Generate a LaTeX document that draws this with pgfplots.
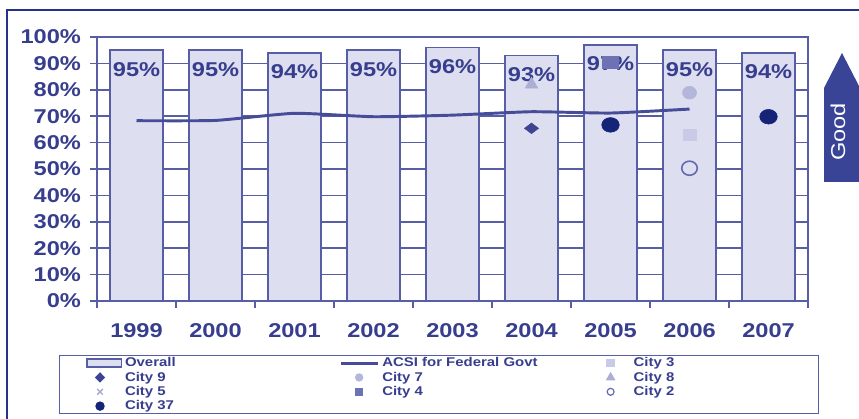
\documentclass[border=0pt]{standalone}
\usepackage{pgfplots}
\pgfplotsset{compat=1.18}
\usepackage{fontspec}
\setmainfont{Liberation Sans}[FakeStretch=1.18]
\definecolor{navy}{RGB}{55,62,142}
\definecolor{barfill}{RGB}{221,222,240}
\definecolor{gridblue}{RGB}{88,94,166}
\definecolor{linec}{RGB}{70,76,152}
\definecolor{darkdot}{RGB}{22,36,120}
\definecolor{c9}{RGB}{62,68,146}
\definecolor{c8}{RGB}{172,174,212}
\definecolor{c4}{RGB}{108,114,180}
\definecolor{c7}{RGB}{180,182,218}
\definecolor{c3}{RGB}{200,202,232}
\definecolor{c2}{RGB}{100,106,172}
\definecolor{c5}{RGB}{165,168,205}
\definecolor{framec}{RGB}{40,50,140}
\definecolor{arrowc}{RGB}{58,68,150}
\pgfplotsset{
  mA/.style={legend image code/.code={\path (0pt,0pt) (26pt,0pt); \draw[##1] plot coordinates {(9.75pt,0pt)};}},
  mB/.style={legend image code/.code={\path (0pt,0pt) (27.75pt,0pt); \draw[##1] plot coordinates {(13.5pt,0pt)};}},
  mC/.style={legend image code/.code={\path (0pt,0pt) (20pt,0pt); \draw[##1] plot coordinates {(5.25pt,0pt)};}},
}
\begin{document}
\begin{tikzpicture}
\path[use as bounding box] (0pt,0pt) rectangle (644.25pt,313.5pt);
\begin{scope}[x=0.75pt,y=-0.75pt,yshift=313.5pt]
  \draw[framec, line width=1.5pt] (7,430) -- (7,10) -- (870,10);
  \fill[arrowc] (824,182) -- (824,88) -- (842,53) -- (860,88) -- (860,182) -- cycle;
  \node[white, rotate=90, font=\fontsize{15}{15}\selectfont] at (838,132) {Good};
\end{scope}
\begin{axis}[
  at={(72.75pt,87.75pt)}, anchor=south west,
  scale only axis, width=533.25pt, height=198pt,
  xmin=0.5, xmax=9.5, ymin=0, ymax=100,
  axis line style={gridblue, line width=1.3pt},
  xtick={0.5,1.5,...,9.5}, xticklabels={},
  extra x ticks={1,...,9},
  extra x tick labels={1999,2000,2001,2002,2003,2004,2005,2006,2007},
  extra x tick style={major tick length=0pt},
  ytick={0,10,...,100},
  yticklabels={0\%,10\%,20\%,30\%,40\%,50\%,60\%,70\%,80\%,90\%,100\%},
  tick pos=left, tick align=outside, major tick length=5pt,
  tick style={gridblue, line width=1.2pt},
  ymajorgrids, grid style={gridblue, line width=1.1pt},
  ticklabel style={font=\fontsize{15}{15}\selectfont\bfseries, text=navy},
  yticklabel style={xshift=-3.5pt},
  xticklabel style={yshift=-13.25pt},
  /pgf/number format/assume math mode=true,
  legend style={at={(-0.0534,-0.2045)}, anchor=north west, legend columns=3,
    draw=gridblue, line width=1pt, font=\fontsize{9.5}{10}\selectfont\bfseries,
    text=navy, row sep=2.55pt, inner xsep=20pt, inner ysep=1.5pt,
    nodes={inner xsep=2pt, inner ysep=0pt, text height=7pt, text depth=1.2pt}},
  legend cell align=left,
]
\addplot[ybar, bar width=0.67, draw=gridblue, fill=barfill, line width=1.2pt, forget plot,
  nodes near coords={\pgfmathprintnumber{\pgfplotspointmeta}\%},
  every node near coord/.append style={anchor=north, yshift=-5pt,
    font=\fontsize{15}{15}\selectfont\bfseries, text=navy}]
  coordinates {(1,95)(2,95)(3,94)(4,95)(5,96)(6,93)(7,97)(8,95)(9,94)};
\addplot[linec, line width=2.2pt, smooth, tension=0.3, forget plot]
  coordinates {(1,68.3)(2,68.4)(3,71.1)(4,69.8)(5,70.4)(6,71.7)(7,71.2)(8,72.7)};
\addplot[only marks, mark=triangle*, mark size=5.5pt, c8, forget plot]
  coordinates {(6,82)};
\addplot[only marks, mark=square*, mark size=4.5pt, c4, mark options={xscale=1.35}, forget plot]
  coordinates {(7,90.4)};
\addplot[only marks, mark=diamond*, mark size=4.4pt, c9, mark options={xscale=1.6, yscale=0.9}, forget plot]
  coordinates {(6,65.4)};
\addplot[only marks, mark=*, mark size=5.5pt, darkdot, mark options={xscale=1.2}, forget plot]
  coordinates {(7,66.7)(9,69.8)};
\addplot[only marks, mark=*, mark size=4.8pt, c7, mark options={xscale=1.1}, forget plot]
  coordinates {(8,78.9)};
\addplot[only marks, mark=square*, mark size=4.8pt, c3, mark options={yscale=0.85}, forget plot]
  coordinates {(8,63.1)};
\addplot[only marks, mark=o, mark size=5.3pt, c2, mark options={xscale=1.1, fill=white, line width=1.2pt}, forget plot]
  coordinates {(8,50.3)};
\addlegendimage{legend image code/.code={\draw[draw=gridblue,fill=barfill,line width=1pt] (0pt,-3pt) rectangle (26pt,3pt);}}
\addlegendentry{\makebox[159pt][l]{Overall}}
\addlegendimage{legend image code/.code={\draw[linec, line width=2.2pt] (0pt,0pt) -- (27.75pt,0pt);}}
\addlegendentry{\makebox[163.5pt][l]{ACSI for Federal Govt}}
\addlegendimage{mC, only marks, mark=square*, mark size=2.6pt, c3}
\addlegendentry{\makebox[116.5pt][l]{City 3}}
\addlegendimage{mA, only marks, mark=diamond*, mark size=3.2pt, c9, mark options={xscale=1.3}}
\addlegendentry{City 9}
\addlegendimage{mB, only marks, mark=*, mark size=2.6pt, c7}
\addlegendentry{City 7}
\addlegendimage{mC, only marks, mark=triangle*, mark size=3.2pt, c8}
\addlegendentry{City 8}
\addlegendimage{mA, only marks, mark=x, mark size=3pt, c5}
\addlegendentry{City 5}
\addlegendimage{mB, only marks, mark=square*, mark size=2.6pt, c4}
\addlegendentry{City 4}
\addlegendimage{mC, only marks, mark=o, mark size=2.6pt, c2, mark options={line width=0.9pt}}
\addlegendentry{City 2}
\addlegendimage{mA, only marks, mark=*, mark size=3pt, darkdot}
\addlegendentry{City 37}
\end{axis}
\end{tikzpicture}
\end{document}
